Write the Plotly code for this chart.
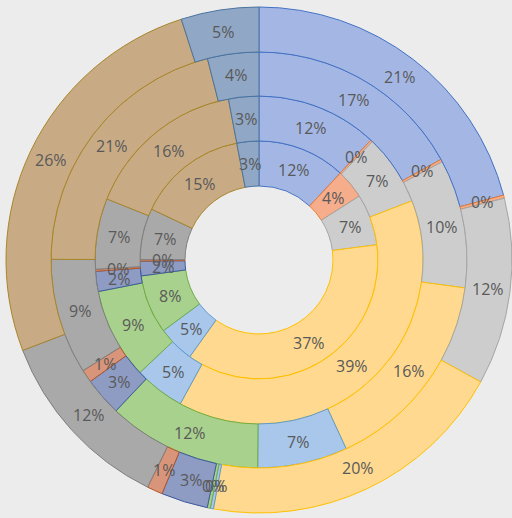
import math
import plotly.graph_objects as go

categories = ["Blue", "Orange", "Gray", "Yellow", "Light blue", "Green",
              "Dark blue", "Brown", "Dark gray", "Gold", "Steel blue"]

# values in percent, innermost ring first (0.2 = shown as 0%)
ring1 = [12, 4, 7, 37, 5, 8, 2, 0.2, 7, 15, 3]
ring2 = [12, 0.2, 7, 39, 5, 9, 2, 0.2, 7, 16, 3]
ring3 = [17, 0.2, 10, 16, 7, 12, 3, 1, 9, 21, 4]
ring4 = [21, 0.2, 12, 20, 0.2, 0.2, 3, 1, 12, 26, 5]

fills = ["#a4b7e4", "#f6ad8c", "#cdcdcd", "#ffd98f", "#a8c7ea", "#a9d18e",
         "#8e9bc2", "#d9957a", "#a9a9a9", "#c8ab85", "#90a7c5"]
borders = ["#4472c4", "#ed7d31", "#a5a5a5", "#ffc000", "#5b9bd5", "#70ad47",
           "#3b5b9e", "#b5562a", "#7f7f7f", "#a8862a", "#4a73a0"]

W, H = 512, 518
cx, cy = 259, 260
radii = [119, 164, 208, 253]
hole_r = 74

fig = go.Figure()
annotations = []
inner = hole_r
for vals, R in zip([ring1, ring2, ring3, ring4], radii):
    fig.add_trace(go.Pie(
        labels=categories, values=vals, sort=False, direction="clockwise",
        rotation=0, hole=inner / R,
        domain=dict(x=[(cx - R) / W, (cx + R) / W],
                    y=[(H - cy - R) / H, (H - cy + R) / H]),
        marker=dict(colors=fills, line=dict(color=borders, width=1)),
        textinfo="none",
        hoverinfo="label+value", showlegend=False,
    ))
    # data labels at the middle of each slice (as in the original chart)
    total = sum(vals)
    rmid = (inner + R) / 2
    cum = 0
    for v in vals:
        ang = 2 * math.pi * (cum + v / 2) / total
        cum += v
        px = cx + rmid * math.sin(ang)
        py = cy - rmid * math.cos(ang)
        annotations.append(dict(
            x=px / W, y=1 - py / H, xref="paper", yref="paper",
            text=f"{v:.0f}%", showarrow=False,
            xanchor="center", yanchor="middle",
            font=dict(family="Open Sans", size=16, color="#595959"),
        ))
    inner = R

fig.update_layout(
    width=W, height=H, margin=dict(l=0, r=0, t=0, b=0),
    paper_bgcolor="#ececec", plot_bgcolor="#ececec",
    annotations=annotations,
)
fig.write_html("out.html", config={"displayModeBar": False},
               post_script="document.body.style.margin='0px';")
